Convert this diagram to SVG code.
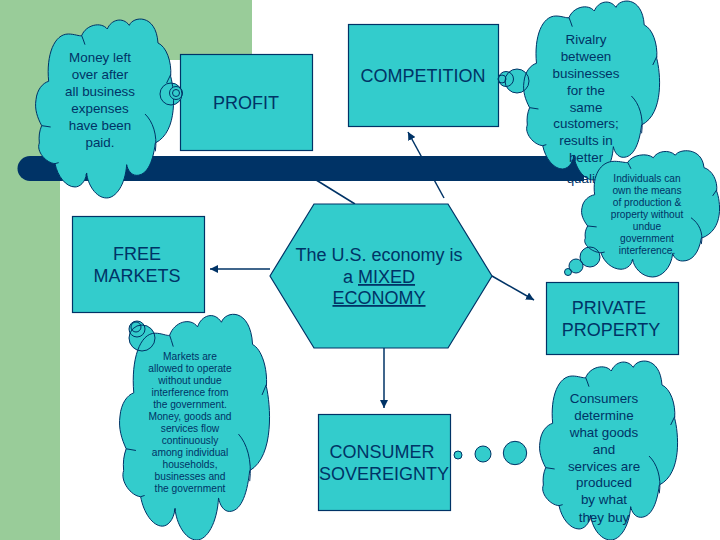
<svg xmlns="http://www.w3.org/2000/svg" width="720" height="540" viewBox="0 0 720 540">
<style>
.shape{fill:#33CCCC;stroke:#003366;stroke-width:1.2}
.cloud{fill:#33CCCC;stroke:#003366;stroke-width:1;vector-effect:non-scaling-stroke}
.tick{fill:none;stroke:#003366;stroke-width:1;vector-effect:non-scaling-stroke}
.dot{fill:#33CCCC;stroke:none}
.ring{fill:none;stroke:#003366;stroke-width:1}
.conn{fill:none;stroke:#003366;stroke-width:1.5}
text{font-family:"Liberation Sans",Arial,sans-serif;fill:#003366;text-anchor:middle}
.big{font-size:18px}
.mid{font-size:13.4px}
.small{font-size:10.2px}
</style>
<defs>
<marker id="arrow" markerUnits="userSpaceOnUse" markerWidth="9" markerHeight="8" refX="8" refY="4" orient="auto">
<path d="M0,0L8,4L0,8Z" fill="#003366"/>
</marker>
<g id="cloudShape">
<path class="cloud" d="M38,190C30,110 55,48 97,48C115,48 130,55 137,53C150,20 195,10 214,33C225,5 260,-5 280,22C290,-5 360,-15 366,75C390,85 408,130 404,175C415,215 428,340 358,375C350,440 330,472 302,472C285,472 275,455 272,440C268,500 240,540 212,540C180,540 155,500 152,465C148,495 130,507 117,507C90,507 65,475 57,437C30,435 0,400 10,375C8,355 10,340 17,323C5,300 -5,275 0,245C3,215 20,195 38,190Z"/>
<path class="tick" d="M17,323L44,327M327,288C350,310 365,350 358,400M392,195L404,170M57,437L68,434M137,53Q142,65 147,80M152,465L150,472"/>
</g>
</defs>
<g id="background">
<rect x="0" y="0" width="252" height="60" fill="#99CC99"/>
<rect x="0" y="60" width="60" height="480" fill="#99CC99"/>
</g>
<g id="connectors">
<path class="conn" d="M444,198L408,132" marker-end="url(#arrow)"/>
<path class="conn" d="M355,204L300,170"/>
<path class="conn" d="M270,269L210,269" marker-end="url(#arrow)"/>
<path class="conn" d="M492,276L534,300" marker-end="url(#arrow)"/>
<path class="conn" d="M384,348L384,408" marker-end="url(#arrow)"/>
</g>
<path id="bar" d="M30,156H584V181H30A12.500,12.500 0 0 1 30,156Z" fill="#003366"/>
<g id="profit"><rect class="shape" x="180.500" y="54.500" width="132" height="96"/><text class="big" x="246" y="109">PROFIT</text></g>
<g id="competition"><rect class="shape" x="348.500" y="24.500" width="150" height="102"/><text class="big" x="423" y="82">COMPETITION</text></g>
<g id="free-markets"><rect class="shape" x="72.500" y="216.500" width="132" height="96"/><text class="big" x="137" y="260">FREE</text><text class="big" x="137" y="282">MARKETS</text></g>
<g id="consumer-sovereignty"><rect class="shape" x="318.500" y="414.500" width="132" height="96"/><text class="big" x="382" y="458">CONSUMER</text><text class="big" x="384" y="480">SOVEREIGNTY</text></g>
<g id="private-property"><rect class="shape" x="546.500" y="282.500" width="132" height="72"/><text class="big" x="609" y="314">PRIVATE</text><text class="big" x="611" y="336">PROPERTY</text></g>
<g id="mixed-economy"><polygon class="shape" points="314,204 448,204 492,276 448,348 314,348 270,276"/><text class="big" x="379" y="261">The U.S. economy is</text><text class="big" x="379" y="283">a <tspan text-decoration="underline">MIXED</tspan></text><text class="big" x="379" y="304" text-decoration="underline">ECONOMY</text></g>
<g id="cloud-profit">
<circle class="dot" cx="171" cy="94" r="11"/>
<use href="#cloudShape" transform="translate(36,18) scale(.3333)"/>
<circle class="dot" cx="176" cy="93" r="6.500"/>
<circle class="ring" cx="171" cy="94" r="11"/><circle class="ring" cx="176" cy="93" r="6.500"/><circle class="ring" cx="176" cy="93" r="3.500"/>
<text class="mid" x="100" y="62">Money left</text><text class="mid" x="100" y="79">over after</text><text class="mid" x="100" y="96">all business</text><text class="mid" x="100" y="113">expenses</text><text class="mid" x="100" y="130">have been</text><text class="mid" x="100" y="147">paid.</text>
</g>
<g id="cloud-competition">
<circle class="dot" cx="517" cy="81" r="12"/><circle class="dot" cx="506" cy="79" r="7.500"/><circle class="dot" cx="502" cy="79" r="4"/>
<use href="#cloudShape" transform="translate(524,0) scale(.3285,.3333)"/>
<circle class="ring" cx="517" cy="81" r="12"/><circle class="ring" cx="506" cy="79" r="7.500"/><circle class="ring" cx="502" cy="79" r="4"/>
<text class="mid" x="586" y="44">Rivalry</text><text class="mid" x="586" y="61">between</text><text class="mid" x="586" y="78">businesses</text><text class="mid" x="586" y="95">for the</text><text class="mid" x="586" y="112">same</text><text class="mid" x="586" y="128">customers;</text><text class="mid" x="586" y="145">results in</text><text class="mid" x="586" y="162">better</text><text class="mid" x="586" y="183">quality</text>
</g>
<g id="cloud-private">
<circle class="dot" cx="590" cy="257" r="10"/><circle class="dot" cx="576" cy="266" r="7"/><circle class="dot" cx="568" cy="272" r="3.500"/>
<use href="#cloudShape" transform="translate(582,150) scale(.3333,.2352)"/>
<circle class="ring" cx="590" cy="257" r="10"/><circle class="ring" cx="576" cy="266" r="7"/><circle class="ring" cx="568" cy="272" r="3.500"/>
<text class="small" x="647" y="182">Individuals can</text><text class="small" x="647" y="194">own the means</text><text class="small" x="647" y="206">of production &amp;</text><text class="small" x="647" y="218">property without</text><text class="small" x="647" y="230">undue</text><text class="small" x="647" y="242">government</text><text class="small" x="647" y="254">interference.</text>
</g>
<g id="cloud-markets">
<circle class="dot" cx="142" cy="338" r="13"/><circle class="dot" cx="137" cy="329" r="8"/><circle class="dot" cx="136" cy="327" r="5"/>
<use href="#cloudShape" transform="translate(120,313) scale(.3623,.4204)"/>
<circle class="ring" cx="142" cy="338" r="13"/><circle class="ring" cx="137" cy="329" r="8"/><circle class="ring" cx="136" cy="327" r="5"/>
<text class="small" x="190" y="360">Markets are</text><text class="small" x="190" y="372">allowed to operate</text><text class="small" x="190" y="384">without undue</text><text class="small" x="190" y="396">interference from</text><text class="small" x="190" y="408">the government.</text><text class="small" x="190" y="420">Money, goods and</text><text class="small" x="190" y="432">services flow</text><text class="small" x="190" y="444">continuously</text><text class="small" x="190" y="456">among individual</text><text class="small" x="190" y="468">households,</text><text class="small" x="190" y="480">businesses and</text><text class="small" x="190" y="492">the government</text>
</g>
<g id="cloud-consumer">
<circle class="dot" cx="515" cy="453" r="11.700"/><circle class="dot" cx="483" cy="454" r="8"/><circle class="dot" cx="458" cy="455" r="4"/>
<circle class="ring" cx="515" cy="453" r="11.700"/><circle class="ring" cx="483" cy="454" r="8"/><circle class="ring" cx="458" cy="455" r="4"/>
<use href="#cloudShape" transform="translate(540,360) scale(.3333)"/>
<text class="mid" x="604" y="403">Consumers</text><text class="mid" x="604" y="420">determine</text><text class="mid" x="604" y="437">what goods</text><text class="mid" x="604" y="454">and</text><text class="mid" x="604" y="471">services are</text><text class="mid" x="604" y="487">produced</text><text class="mid" x="604" y="504">by what</text><text class="mid" x="604" y="522">they buy</text>
</g>
</svg>
